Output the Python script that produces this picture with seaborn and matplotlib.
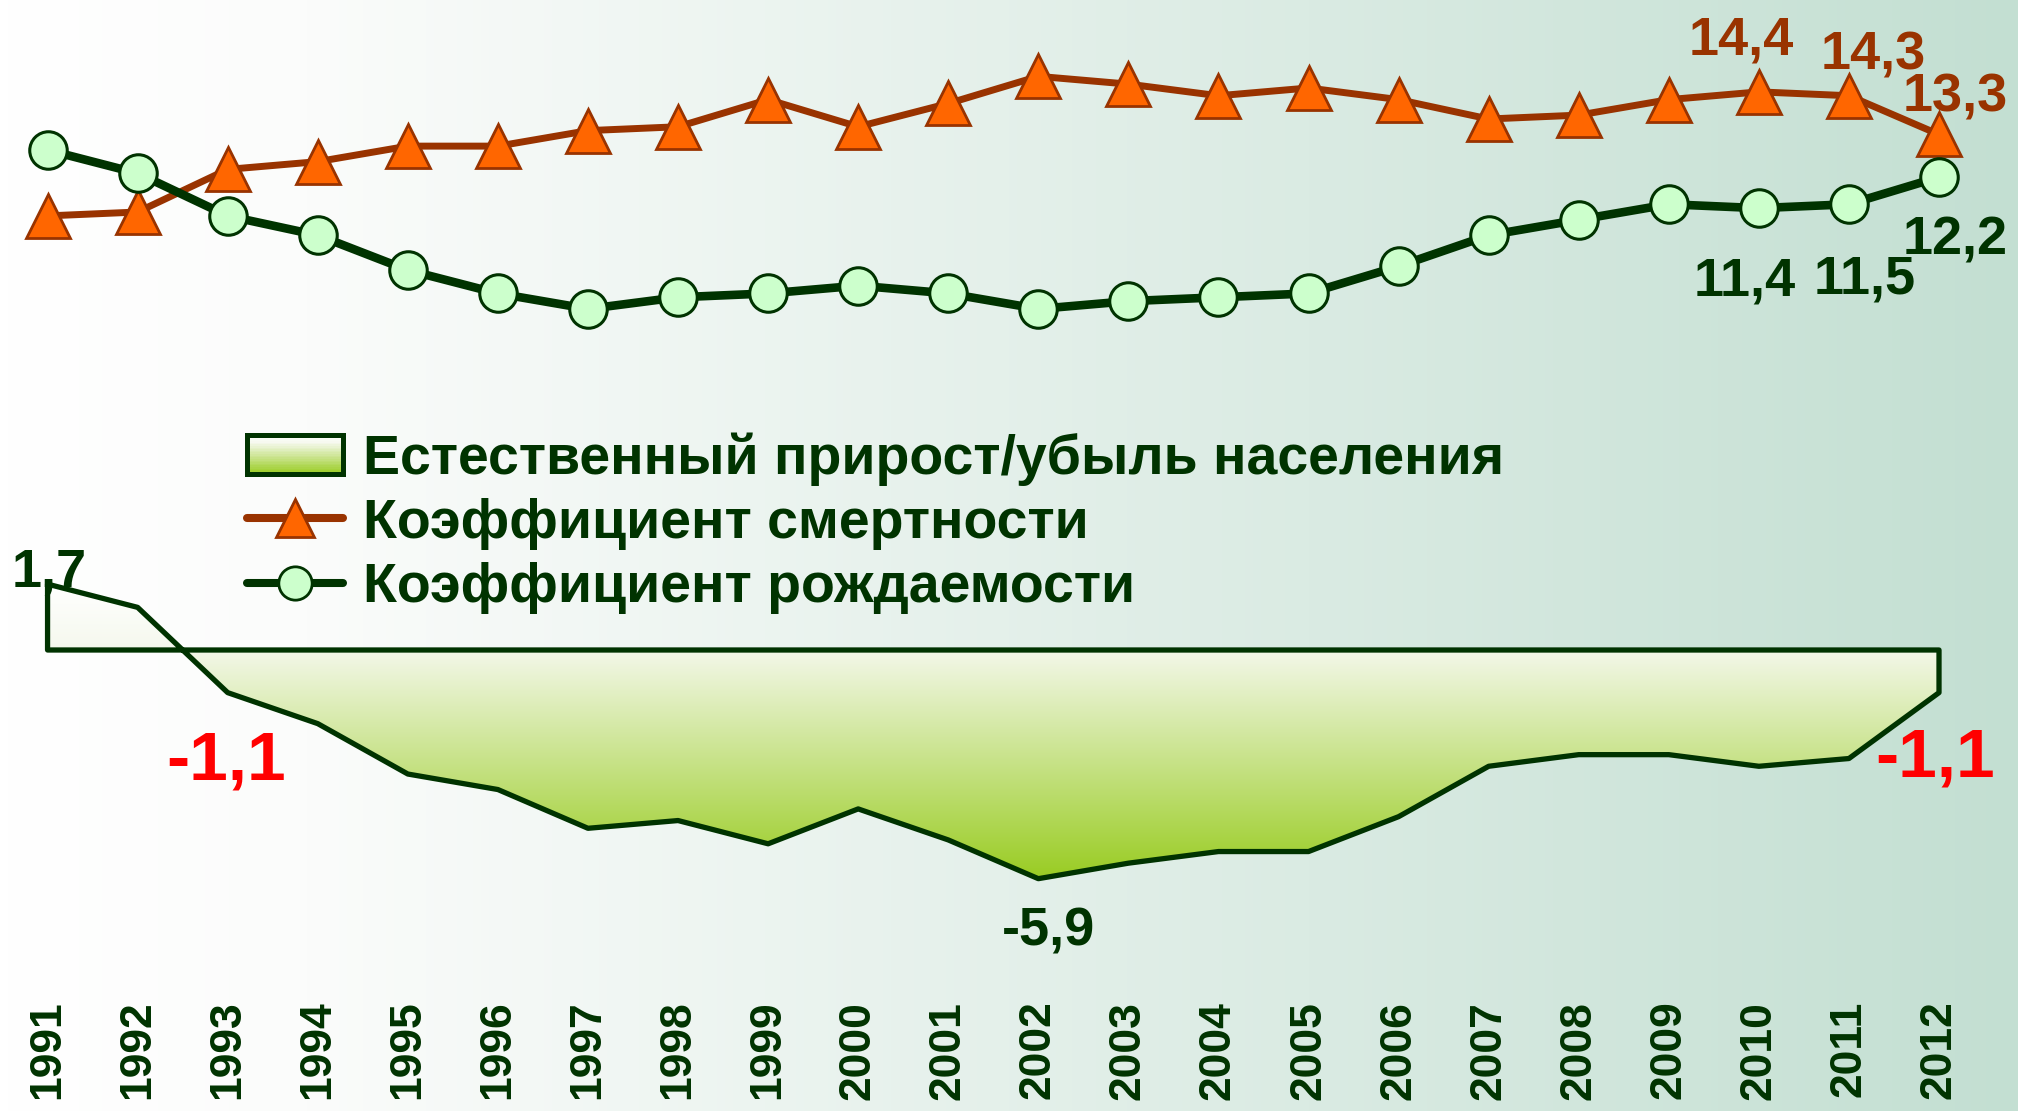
import matplotlib
matplotlib.use("Agg")
import matplotlib.pyplot as plt
import numpy as np
import seaborn as sns
from matplotlib.colors import LinearSegmentedColormap
from matplotlib.legend_handler import HandlerBase
from matplotlib.lines import Line2D
from matplotlib.patches import Rectangle

# --- data ---
years = [1991, 1992, 1993, 1994, 1995, 1996, 1997, 1998, 1999, 2000, 2001,
         2002, 2003, 2004, 2005, 2006, 2007, 2008, 2009, 2010, 2011, 2012]
birth = [12.9, 12.3, 11.2, 10.7, 9.8, 9.2, 8.8, 9.1, 9.2, 9.4, 9.2,
         8.8, 9.0, 9.1, 9.2, 9.9, 10.7, 11.1, 11.5, 11.4, 11.5, 12.2]
death = [11.2, 11.3, 12.4, 12.6, 13.0, 13.0, 13.4, 13.5, 14.2, 13.5, 14.1,
         14.8, 14.6, 14.3, 14.5, 14.2, 13.7, 13.8, 14.2, 14.4, 14.3, 13.3]
natural = [1.7, 1.1, -1.1, -1.9, -3.2, -3.6, -4.6, -4.4, -5.0, -4.1, -4.9,
           -5.9, -5.5, -5.2, -5.2, -4.3, -3.0, -2.7, -2.7, -3.0, -2.8, -1.1]

series_names = ["Естественный прирост/убыль населения",
                "Коэффициент смертности",
                "Коэффициент рождаемости"]

# which points carry a value label
death_labeled = [19, 20, 21]
birth_labeled = [19, 20, 21]
natural_labeled = [0, 2, 11, 21]

DARK = "#003300"
BROWN = "#993300"
ORANGE = "#FF6600"
MINT = "#CCFFCC"
RED = "#FF0000"


def fmt(v):
    return f"{v:.1f}".replace(".", ",")


class GradientHandler(HandlerBase):
    def create_artists(self, legend, orig_handle, xdescent, ydescent,
                       width, height, fontsize, trans):
        n = 24
        arts = []
        for i in range(n):
            c = area_cmap(1 - (i + 0.5) / n)
            arts.append(Rectangle((-xdescent, -ydescent + height * i / n), width,
                                  height / n * 1.05, facecolor=c, edgecolor="none",
                                  transform=trans))
        arts.append(Rectangle((-xdescent, -ydescent), width, height, facecolor="none",
                              edgecolor=DARK, linewidth=3.6, transform=trans))
        return arts


sns.set_theme(style="white")
plt.rcParams["font.family"] = ["Liberation Sans", "DejaVu Sans"]
plt.rcParams["font.weight"] = "bold"

area_cmap = LinearSegmentedColormap.from_list(
    "area", [(0, "#FFFFFF"), (0.2, "#F6F9EF"), (1, "#99CC22")])
bg_cmap = LinearSegmentedColormap.from_list(
    "bg", [(0, "#FFFFFF"), (0.15, "#FBFCFB"), (1, "#C3DFD2")])

fig = plt.figure(figsize=(20.18, 11.11), dpi=100)

# background gradient
bg = fig.add_axes([0, 0, 1, 1], zorder=0)
bg.imshow(np.linspace(0, 1, 512).reshape(1, -1), aspect="auto", cmap=bg_cmap,
          extent=(0, 1, 0, 1))
bg.set_axis_off()

ax = fig.add_axes([0, 111 / 1111, 1, 1000 / 1111], zorder=1)
ax.patch.set_alpha(0)
x = np.arange(len(years))

# natural increase area, gradient fill clipped to the polygon
poly = ax.fill_between(x, natural, 0, facecolor="none", edgecolor=DARK,
                       linewidth=3.8, zorder=3)
img = ax.imshow(np.linspace(0, 1, 256).reshape(-1, 1), cmap=area_cmap, aspect="auto",
                extent=(0, len(years) - 1, min(natural), max(natural)),
                origin="upper", zorder=2)
img.set_clip_path(poly.get_paths()[0], transform=ax.transData)

sns.lineplot(x=x, y=death, ax=ax, color=BROWN, linewidth=5, marker="^",
             markersize=31, markerfacecolor=ORANGE, markeredgecolor=BROWN,
             markeredgewidth=2, zorder=4)
sns.lineplot(x=x, y=birth, ax=ax, color=DARK, linewidth=6.2, marker="o",
             markersize=27, markerfacecolor=MINT, markeredgecolor=DARK,
             markeredgewidth=2.2, zorder=5)

# value labels
death_off = [(-12.6, 26.6), (17.3, 18.7), (11.5, 16.6)]
for i, off in zip(death_labeled, death_off):
    ax.annotate(fmt(death[i]), (x[i], death[i]), xytext=off, textcoords="offset points",
                ha="center", va="baseline", fontsize=39, color=BROWN,
                fontweight="bold", zorder=6)
birth_off = [(-10.4, -62.6), (11.5, -64), (11.5, -56)]
for i, off in zip(birth_labeled, birth_off):
    ax.annotate(fmt(birth[i]), (x[i], birth[i]), xytext=off, textcoords="offset points",
                ha="center", va="baseline", fontsize=39, color=DARK,
                fontweight="bold", zorder=6)
nat_style = [((1.4, -1.4), 39, DARK), ((-1.4, -62.6), 50, RED),
             ((7.2, -48.2), 39, DARK), ((-2.9, -60.5), 50, RED)]
for i, (off, fs, col) in zip(natural_labeled, nat_style):
    ax.annotate(fmt(natural[i]), (x[i], natural[i]), xytext=off,
                textcoords="offset points", ha="center", va="baseline",
                fontsize=fs, color=col, fontweight="bold", zorder=6)

ax.set_xlim(-0.528, 21.877)
ax.set_ylim(-9.03, 16.77)
ax.set_xticks(x)
ax.set_xticklabels(years, rotation=90, fontsize=32, fontweight="bold", color=DARK)
ax.set_yticks([])
ax.tick_params(axis="x", length=0, pad=0.5)
for s in ax.spines.values():
    s.set_visible(False)
ax.set_xlabel("")
ax.set_ylabel("")

handles = [
    Rectangle((0, 0), 1, 1),
    Line2D([], [], color=BROWN, linewidth=5.8, marker="^", markersize=27,
           markerfacecolor=ORANGE, markeredgecolor=BROWN, markeredgewidth=2),
    Line2D([], [], color=DARK, linewidth=5.8, marker="o", markersize=24,
           markerfacecolor=MINT, markeredgecolor=DARK, markeredgewidth=2),
]
leg = ax.legend(handles, series_names, loc="upper left",
                bbox_to_anchor=(247 / 2018, 1 - 432 / 1111),
                bbox_transform=fig.transFigure, frameon=False, fontsize=40,
                handlelength=1.72, handletextpad=0.36, handleheight=0.7,
                labelspacing=0.22, borderpad=0, borderaxespad=0,
                handler_map={Rectangle: GradientHandler()})
for t in leg.get_texts():
    t.set_color(DARK)
    t.set_fontweight("bold")
leg.set_zorder(7)

fig.savefig("out.png", dpi=100)
